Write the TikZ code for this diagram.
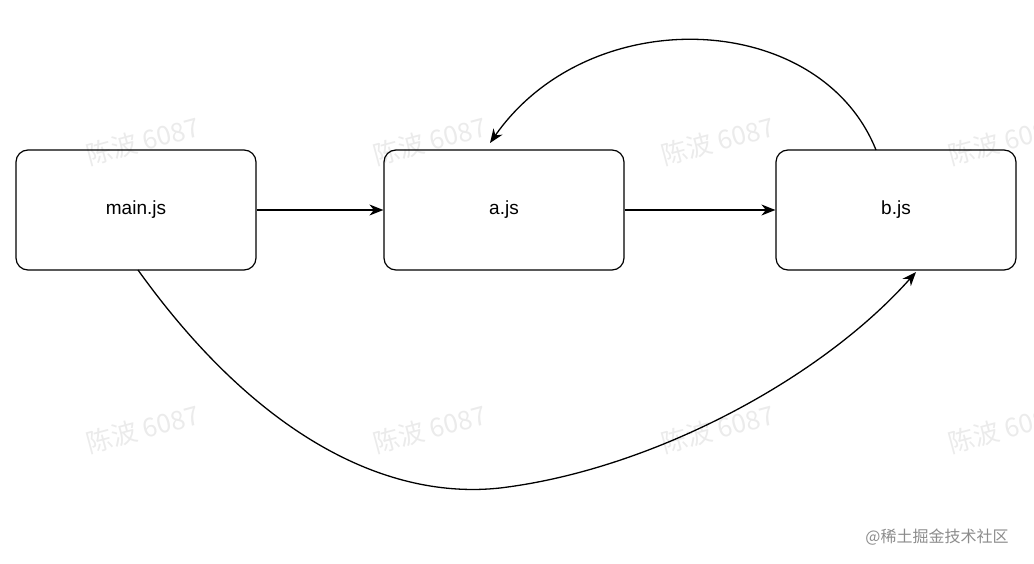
\documentclass[tikz,border=0pt]{standalone}
\usepackage{fontspec}
\setmainfont{Liberation Sans}
\newfontfamily\cjk{Noto Sans CJK SC}
\usetikzlibrary{arrows.meta}
\begin{document}
\begin{tikzpicture}[x=1pt,y=-1pt,
  box/.style={draw,line width=1.2pt,rounded corners=12pt,minimum width=240pt,minimum height=120pt,font=\fontsize{19}{22}\selectfont},
  conn/.style={line width=1.3pt,-{Stealth[length=14pt,width=11pt]}},
  wm/.style={text=black!8,rotate=15,font=\cjk\fontsize{26}{30}\selectfont}]
\useasboundingbox (0,0) rectangle (1034,564);
\foreach \x in {143,430,718,1005}{
  \node[wm] at (\x,141) {陈波 6087};
  \node[wm] at (\x,429) {陈波 6087};
}
\node[box] (m) at (136,210) {main.js};
\node[box] (a) at (504,210) {a.js};
\node[box] (b) at (896,210) {b.js};
\draw[conn] (m) -- (a);
\draw[conn] (a) -- (b);
\coordinate (bt) at (876,150);
\coordinate (at) at (490,143);
\draw[conn] (bt) .. controls (820,10) and (590,0) .. (at);
\coordinate (mb) at (138,270);
\coordinate (bb) at (916,272);
\draw[conn] (mb) .. controls (260,440) and (390,500) .. (500,488) .. controls (650,470) and (820,380) .. (bb);
\node[font=\cjk\fontsize{16}{19}\selectfont,text=black!45] (w) at (937,537) {@稀土掘金技术社区};
\end{tikzpicture}
\end{document}
